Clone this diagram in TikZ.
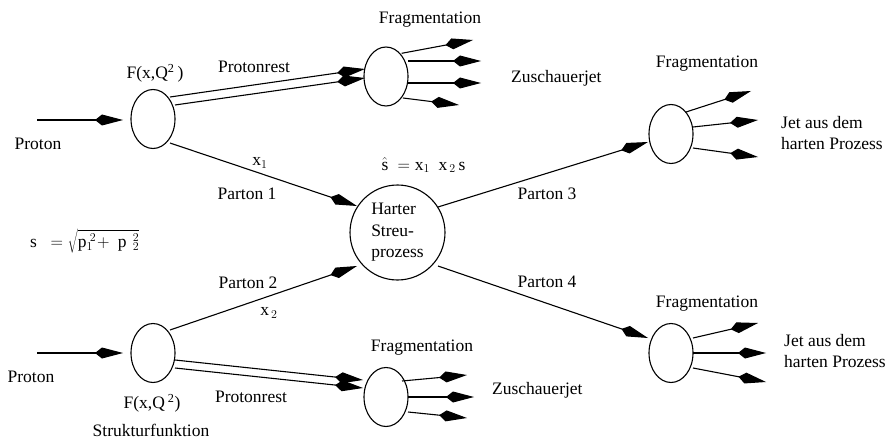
\documentclass[tikz,border=0pt]{standalone}
\usepackage{fontspec}
\setmainfont{Liberation Serif}
\usetikzlibrary{arrows.meta,shapes.geometric}
\begin{document}
\begin{tikzpicture}[x=1pt,y=-1pt,
  ln/.style={line width=1.1pt,-{Kite[length=28pt,width=11pt,inset=7pt]}},
  blob/.style={ellipse,draw,line width=1.1pt,minimum width=44pt,minimum height=59pt,inner sep=0pt},
  lbl/.style={font=\fontsize{17.5}{21.5}\selectfont,inner sep=0pt},
]
\useasboundingbox (0,0) rectangle (886,441);
% blobs
\node[blob] (pA) at (153,119) {};
\node[blob] (pB) at (153,353) {};
\node[blob] (fA) at (386,76.5) {};
\node[blob] (fB) at (386,397) {};
\node[blob] (fC) at (671,134) {};
\node[blob] (fD) at (671,353) {};
\node[circle,draw,line width=1.1pt,minimum size=95pt,inner sep=0pt,align=left,lbl] (hs) at (397.5,232.5) {Harter\\Streu-\\prozess};
% coordinates
\coordinate (inA) at (37,120);   \coordinate (inAt) at (123,120);
\coordinate (inB) at (37,353);   \coordinate (inBt) at (123,353);
\coordinate (p1s) at (170,143);  \coordinate (p1t) at (357,206);
\coordinate (p2s) at (170,330);  \coordinate (p2t) at (357,266);
\coordinate (rA1s) at (170,97);  \coordinate (rA1t) at (365,69);
\coordinate (rA2s) at (175,105); \coordinate (rA2t) at (365,78);
\coordinate (rB1s) at (175,360); \coordinate (rB1t) at (363,380);
\coordinate (rB2s) at (175,368); \coordinate (rB2t) at (363,388);
\coordinate (a1s) at (401.7,53.3); \coordinate (a1t) at (473,40);
\coordinate (a2s) at (408,61);     \coordinate (a2t) at (481,61);
\coordinate (a3s) at (408,83);     \coordinate (a3t) at (481,83);
\coordinate (a4s) at (403,98);     \coordinate (a4t) at (459,105);
\coordinate (p3s) at (438,207);  \coordinate (p3t) at (648,142);
\coordinate (c1s) at (686,112);  \coordinate (c1t) at (751,91);
\coordinate (c2s) at (693,127);  \coordinate (c2t) at (758,120);
\coordinate (c3s) at (693,148);  \coordinate (c3t) at (758,157);
\coordinate (p4s) at (438,266);  \coordinate (p4t) at (648,338);
\coordinate (d1s) at (693,338);  \coordinate (d1t) at (758,323);
\coordinate (d2s) at (693,353);  \coordinate (d2t) at (766,353);
\coordinate (d3s) at (693,368);  \coordinate (d3t) at (766,382);
\coordinate (b1s) at (402,381);  \coordinate (b1t) at (467,375);
\coordinate (b2s) at (408,397);  \coordinate (b2t) at (474,397);
\coordinate (b3s) at (408,412);  \coordinate (b3t) at (467,418);
% connectors
\foreach \s/\t in {inA/inAt,inB/inBt,p1s/p1t,p2s/p2t,rA1s/rA1t,rA2s/rA2t,rB1s/rB1t,rB2s/rB2t,
  a1s/a1t,a2s/a2t,a3s/a3t,a4s/a4t,p3s/p3t,c1s/c1t,c2s/c2t,c3s/c3t,p4s/p4t,d1s/d1t,d2s/d2t,d3s/d3t,
  b1s/b1t,b2s/b2t,b3s/b3t}
  \draw[ln] (\s) -- (\t);
% labels
\node[lbl] (lProtA) at (38,144) {Proton};
\node[lbl] (lProtB) at (31,377) {Proton};
\node[lbl] (lFA) at (155,73) {F(x,Q\textsuperscript{2}\,)};
\node[lbl] (lFB) at (152,403) {F(x,Q\,\textsuperscript{2})};
\node[lbl] (lRA) at (254,67) {Protonrest};
\node[lbl] (lRB) at (251,397) {Protonrest};
\node[lbl] (lx1) at (260,163) {$\mathrm{x}_1$};
\node[lbl] (lP1) at (247,194) {Parton 1};
\node[lbl] (lP2) at (248,283) {Parton 2};
\node[lbl] (lx2) at (269,313) {$\mathrm{x}_{\,2}$};
\node[lbl] (lP3) at (547,194) {Parton 3};
\node[lbl] (lP4) at (547,282) {Parton 4};
\node[lbl] (lshat) at (423.5,165) {$\hat{\mathrm{s}}\ =\mathrm{x}_1\ \ \mathrm{x}_{\,2}\,\mathrm{s}$};
\node[lbl,anchor=base west] (ls) at (30,247) {$\mathrm{s}\ \ =\sqrt{\mathrm{p}_{1}^{\;2}\!+\ \mathrm{p}^{\ \,2}_{\ \,2}}$};
\node[lbl] (lStr) at (151,430) {Strukturfunktion};
\node[lbl] (lFrA) at (430,20) {Fragmentation};
\node[lbl] (lFrB) at (422,348) {Fragmentation};
\node[lbl] (lFrC) at (707,64) {Fragmentation};
\node[lbl] (lFrD) at (707,304) {Fragmentation};
\node[lbl,anchor=west] (lZA) at (511,78) {Zuschauerjet};
\node[lbl,anchor=west] (lZB) at (492,390) {Zuschauerjet};
\node[lbl,anchor=west,align=left] (lJC) at (781,133) {Jet aus dem\\harten Prozess};
\node[lbl,anchor=west,align=left] (lJD) at (784,351) {Jet aus dem\\harten Prozess};
\end{tikzpicture}
\end{document}
